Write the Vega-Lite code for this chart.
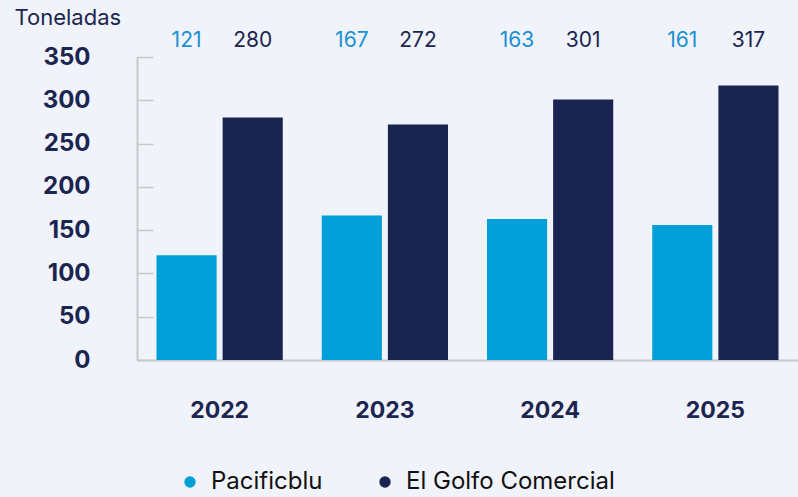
{
  "$schema": "https://vega.github.io/schema/vega-lite/v6.json",
  "width": 661,
  "height": 303,
  "autosize": {"type": "none"},
  "padding": {"left": 137, "top": 57, "right": 0, "bottom": 137},
  "background": "#f0f3f9",
  "config": {"view": {"stroke": null}, "font": "Inter"},
  "data": {
    "values": [
      {"year": "2022", "series": "Pacificblu", "value": 121, "label": "121"},
      {"year": "2022", "series": "El Golfo Comercial", "value": 280, "label": "280"},
      {"year": "2023", "series": "Pacificblu", "value": 167, "label": "167"},
      {"year": "2023", "series": "El Golfo Comercial", "value": 272, "label": "272"},
      {"year": "2024", "series": "Pacificblu", "value": 163, "label": "163"},
      {"year": "2024", "series": "El Golfo Comercial", "value": 301, "label": "301"},
      {"year": "2025", "series": "Pacificblu", "value": 156, "label": "161"},
      {"year": "2025", "series": "El Golfo Comercial", "value": 317, "label": "317"}
    ]
  },
  "encoding": {
    "x": {
      "field": "year", "type": "nominal",
      "scale": {"paddingInner": 0.236, "paddingOuter": 0.118},
      "axis": {
        "title": null, "labelAngle": 0, "ticks": false,
        "domainColor": "#c8c8c8", "domainWidth": 2,
        "labelFont": "Inter", "labelFontSize": 23, "labelFontWeight": "bold",
        "labelColor": "#1b2550", "labelBaseline": "middle", "labelPadding": 50
      }
    },
    "xOffset": {
      "field": "series", "type": "nominal",
      "sort": ["Pacificblu", "El Golfo Comercial"],
      "scale": {"paddingInner": 0.0909, "paddingOuter": 0}
    }
  },
  "layer": [
    {
      "mark": {"type": "bar"},
      "encoding": {
        "y": {
          "field": "value", "type": "quantitative",
          "scale": {"domain": [0, 350], "nice": false},
          "axis": {
            "values": [0, 50, 100, 150, 200, 250, 300, 350],
            "title": "Toneladas", "titleAngle": 0, "titleAlign": "left",
            "titleBaseline": "alphabetic", "titleX": -123, "titleY": -33,
            "titleFont": "Inter", "titleFontSize": 22, "titleFontWeight": "normal",
            "titleColor": "#1b2550",
            "grid": false, "domainColor": "#c8c8c8", "domainWidth": 2,
            "tickColor": "#c8c8c8", "tickWidth": 1.5, "tickSize": -16,
            "labelPadding": 63, "labelFont": "Inter", "labelFontSize": 24,
            "labelFontWeight": "bold", "labelColor": "#1b2550", "labelAlign": "right",
            "labelBaseline": "middle"
          }
        },
        "color": {
          "field": "series", "type": "nominal",
          "scale": {"domain": ["Pacificblu", "El Golfo Comercial"], "range": ["#009fd8", "#1a2450"]},
          "legend": {
            "title": null, "orient": "none", "direction": "horizontal",
            "legendX": 41, "legendY": 413,
            "symbolType": "circle", "symbolSize": 130, "symbolStrokeWidth": 0,
            "labelFont": "Inter", "labelFontSize": 24, "labelColor": "#111111",
            "labelOffset": 9, "labelLimit": 400, "columnPadding": 50, "symbolOpacity": 1
          }
        }
      }
    },
    {
      "mark": {"type": "text", "baseline": "middle", "align": "center", "dy": -16, "fontSize": 21, "font": "Inter"},
      "encoding": {
        "y": {"datum": 350, "type": "quantitative"},
        "text": {"field": "label"},
        "color": {
          "field": "series", "type": "nominal",
          "scale": {"domain": ["Pacificblu", "El Golfo Comercial"], "range": ["#1b8fd4", "#1b2550"]},
          "legend": null
        }
      }
    }
  ],
  "resolve": {"scale": {"color": "independent"}}
}
